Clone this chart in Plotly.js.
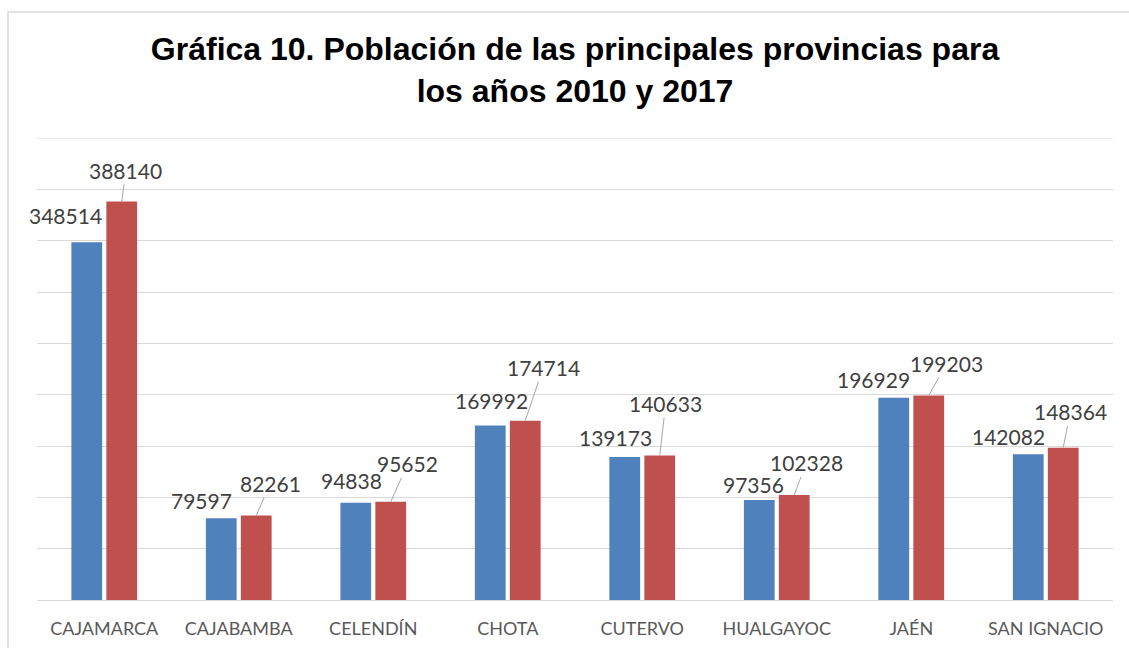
<!DOCTYPE html>
<html>
<head>
<meta charset="utf-8">
<script src="https://cdn.plot.ly/plotly-3.0.1.min.js"></script>
<style>html,body{margin:0;padding:0;background:#fff;}#chart{width:1129px;height:648px;}</style>
</head>
<body>
<div id="chart"></div>
<script>
const provincias = ["CAJAMARCA","CAJABAMBA","CELENDÍN","CHOTA","CUTERVO","HUALGAYOC","JAÉN","SAN IGNACIO"];
const pob2010 = [348514, 79597, 94838, 169992, 139173, 97356, 196929, 142082];
const pob2017 = [388140, 82261, 95652, 174714, 140633, 102328, 199203, 148364];
const yMax = 450000;

// label offsets (pixels) relative to bar tops
const off2010x = [-21, -20, -4, 1, -9, -6, -20, -20];
const off2010y = [-27, -18, -22, -25, -20, -16, -18, -18];
const off2017x = [4, 14, 17, 18, 6, 12, 18, 7];
const off2017y = [-31, -32, -38, -53, -52, -32, -32, -36];

const W = 1129, H = 648;
const margin = {l: 37, r: 16, t: 138, b: 48};
const plotW = W - margin.l - margin.r;
const catW = plotW / provincias.length;
const barShift = catW * 0.52 / 4; // half of a bar slot

const trace2010 = {
  type: 'bar', name: '2010', x: provincias, y: pob2010,
  marker: {color: '#4F81BD'}, hoverinfo: 'x+y'
};
const trace2017 = {
  type: 'bar', name: '2017', x: provincias, y: pob2017,
  marker: {color: '#C0504D'}, hoverinfo: 'x+y'
};

const annotations = [];
const labelFont = {family: 'Lato, "Open Sans", sans-serif', size: 21, color: '#404040'};
provincias.forEach((p, i) => {
  annotations.push({
    x: p, y: pob2010[i], xref: 'x', yref: 'y', xshift: -barShift,
    text: String(pob2010[i]), showarrow: true, arrowcolor: 'rgba(0,0,0,0)',
    arrowhead: 0, ax: off2010x[i], ay: off2010y[i], font: labelFont, standoff: 0
  });
  annotations.push({
    x: p, y: pob2017[i], xref: 'x', yref: 'y', xshift: barShift,
    text: String(pob2017[i]), showarrow: true, arrowcolor: '#A6A6A6', arrowwidth: 1,
    arrowhead: 0, ax: off2017x[i], ay: off2017y[i], font: labelFont, standoff: 0
  });
});

const plotH = H - margin.t - margin.b;
const bx0 = (8 - margin.l) / plotW;
const by1 = (H - margin.b - 12) / plotH;
const layout = {
  width: W, height: H, margin: margin,
  paper_bgcolor: '#fff', plot_bgcolor: '#fff',
  showlegend: false,
  barmode: 'group', bargap: 0.48, bargroupgap: 0.12,
  title: {
    text: '<b>Gráfica 10. Población de las principales provincias para<br>los años 2010 y 2017</b>',
    font: {family: '"Liberation Sans", Arial, sans-serif', size: 32, color: '#000'},
    x: 0.5, xanchor: 'center', xref: 'paper', y: 1 - 60 / H, yanchor: 'top', yref: 'container'
  },
  xaxis: {
    type: 'category', range: [-0.5, 7.5], autorange: false,
    showgrid: false, showline: true, linecolor: '#D9D9D9', linewidth: 1,
    ticks: 'outside', ticklen: 12, tickcolor: 'rgba(0,0,0,0)',
    tickfont: {family: 'Lato, "Open Sans", sans-serif', size: 18, color: '#595959'},
    fixedrange: true
  },
  yaxis: {
    range: [0, yMax], autorange: false, dtick: 50000, tick0: 0,
    showgrid: true, gridcolor: '#D9D9D9', gridwidth: 1,
    showticklabels: false, zeroline: false, showline: false, ticks: '', fixedrange: true
  },
  annotations: annotations,
  shapes: [{
    type: 'path', xref: 'paper', yref: 'paper',
    path: `M ${bx0} -0.2 L ${bx0} ${by1} L 1.1 ${by1}`,
    line: {color: '#D9D9D9', width: 1.5}
  }, {
    type: 'line', xref: 'paper', yref: 'y', x0: 0, x1: 1, y0: yMax, y1: yMax,
    line: {color: '#D9D9D9', width: 1}, layer: 'below'
  }]
};

Plotly.newPlot('chart', [trace2010, trace2017], layout, {displayModeBar: false, staticPlot: true});
</script>
</body>
</html>
